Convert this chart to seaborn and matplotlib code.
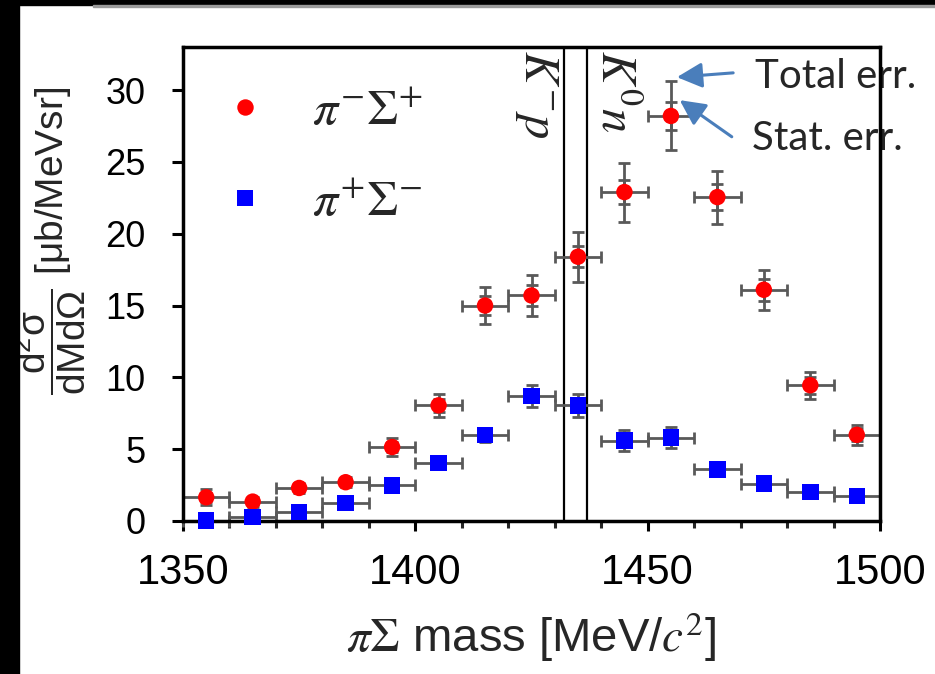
import numpy as np
import pandas as pd
import matplotlib
matplotlib.use("Agg")
import matplotlib.pyplot as plt
import seaborn as sns
from matplotlib.patches import Rectangle

# ---------------- data ----------------
mass = [1355, 1365, 1375, 1385, 1395, 1405, 1415, 1425, 1435, 1445, 1455, 1465, 1475, 1485, 1495]
bin_half = [5] * 15

pim_sigp = [1.65, 1.35, 2.3, 2.7, 5.15, 8.05, 15.0, 15.7, 18.4, 22.9, 28.2, 22.55, 16.1, 9.45, 6.0]
pim_sigp_tot = [0.55, 0.35, 0.35, 0.35, 0.6, 0.8, 1.3, 1.4, 1.75, 2.05, 2.4, 1.85, 1.4, 0.95, 0.7]
pim_sigp_stat = [0.3, 0.2, 0.2, 0.2, 0.35, 0.45, 0.65, 0.75, 0.75, 0.85, 1.0, 0.9, 0.75, 0.6, 0.45]

pip_sigm = [0.02, 0.27, 0.62, 1.25, 2.48, 4.05, 6.0, 8.7, 8.05, 5.6, 5.8, 3.6, 2.6, 2.0, 1.75]
pip_sigm_tot = [0.15, 0.15, 0.2, 0.25, 0.3, 0.35, 0.5, 0.75, 0.8, 0.75, 0.75, 0.35, 0.25, 0.2, 0.2]
pip_sigm_stat = [0.1, 0.1, 0.15, 0.15, 0.2, 0.25, 0.35, 0.4, 0.4, 0.4, 0.4, 0.2, 0.15, 0.12, 0.12]

labels = [r"$\pi^{-}\Sigma^{+}$", r"$\pi^{+}\Sigma^{-}$"]
colors = ["#FF0000", "#0000FF"]
x_ticks = [1350, 1400, 1450, 1500]
y_ticks = [0, 5, 10, 15, 20, 25, 30]
thresholds = [1432.0, 1437.0]
threshold_labels = [r"$K^{-}p$", r"$K^{0}n$"]

df = pd.DataFrame({
    "mass": mass + mass,
    "xs": pim_sigp + pip_sigm,
    "channel": [labels[0]] * len(mass) + [labels[1]] * len(mass),
})

# ---------------- style ----------------
sns.set_theme(style="white")
plt.rcParams["font.family"] = ["Liberation Sans", "DejaVu Sans"]
plt.rcParams["mathtext.fontset"] = "custom"
plt.rcParams["mathtext.rm"] = "Liberation Sans"
plt.rcParams["mathtext.it"] = "Liberation Sans:italic"
plt.rcParams["mathtext.bf"] = "Liberation Sans:bold"

fig = plt.figure(figsize=(9.35, 6.74), dpi=100)
fig.patch.set_facecolor("white")
ax = fig.add_axes([183 / 935, 1 - 521 / 674, 697 / 935, 474 / 674])

err_col = "#595959"
for vals, tot, stat in [(pim_sigp, pim_sigp_tot, pim_sigp_stat), (pip_sigm, pip_sigm_tot, pip_sigm_stat)]:
    ax.errorbar(mass, vals, yerr=tot, xerr=bin_half, fmt="none", ecolor=err_col,
                elinewidth=2.0, capsize=4.3, capthick=2.0, zorder=2, clip_on=False)
    ax.errorbar(mass, vals, yerr=stat, fmt="none", ecolor=err_col,
                elinewidth=2.0, capsize=4.3, capthick=2.0, zorder=2, clip_on=False)

sns.scatterplot(data=df, x="mass", y="xs", hue="channel", style="channel",
                palette=dict(zip(labels, colors)), markers=dict(zip(labels, ["o", "s"])),
                s=140, linewidth=0, ax=ax, zorder=4, legend=True)
for coll in ax.collections:
    coll.set_clip_on(False)

for t in thresholds:
    ax.axvline(t, color="black", lw=1.6, zorder=1)

ax.text(thresholds[0] - 0.9, 32.8, threshold_labels[0], rotation=-90, ha="right", va="top",
        fontsize=35, math_fontfamily="stix", zorder=5)
ax.text(thresholds[1] + 0.9, 32.8, threshold_labels[1], rotation=-90, ha="left", va="top",
        fontsize=35, math_fontfamily="stix", zorder=5)

# annotations
arrow_col = "#4A7EBB"
aprops = dict(arrowstyle="-|>,head_length=0.7,head_width=0.35", color=arrow_col, lw=2.2,
              shrinkA=0, shrinkB=0, mutation_scale=22)
ax.annotate("", xy=(1456.3, 30.9), xytext=(1468.4, 31.2), arrowprops=aprops, zorder=5)
ax.annotate("", xy=(1456.9, 29.3), xytext=(1468.1, 26.75), arrowprops=aprops, zorder=5)
ax.text(1473.1, 30.13, "Total err.", fontsize=29, family="Lato", va="baseline",
        clip_on=False, zorder=1)
ax.text(1472.4, 25.8, "Stat. err.", fontsize=29, family="Lato", va="baseline",
        clip_on=False, zorder=1)

# axes
ax.set_xlim(1350, 1500)
ax.set_ylim(0, 33)
ax.set_xticks(x_ticks)
ax.set_xticks(np.arange(1350, 1501, 10), minor=True)
ax.set_yticks(y_ticks)
ax.tick_params(axis="x", which="major", direction="out", length=7, width=2.2, pad=16,
               labelsize=30, colors="black", bottom=True)
ax.tick_params(axis="x", which="minor", direction="out", length=5, width=2.2, bottom=True)
ax.tick_params(axis="y", which="major", direction="out", length=8, width=2.2, pad=19,
               labelsize=26, colors="black", left=True)
for sp in ax.spines.values():
    sp.set_linewidth(2.5)
    sp.set_color("black")
    sp.set_visible(True)
    sp.set_zorder(3)

ax.set_xlabel(r"$\pi\Sigma$ mass [MeV/$c^{2}$]", fontsize=34, labelpad=12,
              math_fontfamily="stix")
ax.set_ylabel(r"$\dfrac{\mathrm{d^2\sigma}}{\mathrm{dMd\Omega}}$ [μb/MeVsr]", fontsize=28)
ax.yaxis.set_label_coords(-0.136, 0.59)

handles, labs = ax.get_legend_handles_labels()
leg = ax.legend(handles, labs, loc="upper left", bbox_to_anchor=(0.06, 0.912), frameon=False,
                fontsize=36, handlelength=0.8, handletextpad=0.95, labelspacing=0.9,
                markerscale=1.0, borderpad=0, borderaxespad=0)
for t in leg.get_texts():
    t.set_math_fontfamily("stix")

# black frame bits of the screenshot
fig.patches.append(Rectangle((0, 0), 19 / 935, 1, transform=fig.transFigure,
                             color="black", zorder=10))
fig.patches.append(Rectangle((0, 1 - 5 / 674), 1, 5 / 674, transform=fig.transFigure,
                             color="black", zorder=10))
fig.patches.append(Rectangle((93 / 935, 1 - 7 / 674), 1, 2 / 674, transform=fig.transFigure,
                             color="#9A9A9A", zorder=10))

fig.savefig("out.png", dpi=100)
